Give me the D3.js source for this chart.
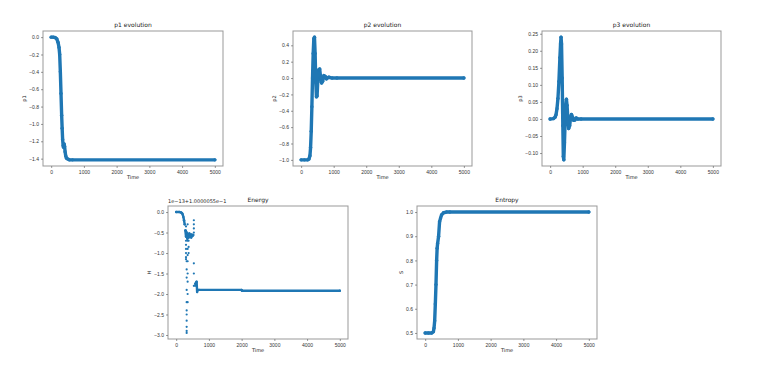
<!DOCTYPE html>
<html>
<head>
<meta charset="utf-8">
<script src="https://cdn.jsdelivr.net/npm/d3@7"></script>
<style>
  body { margin: 0; background: #fff; }
  svg { display: block; font-family: "DejaVu Sans", sans-serif; }
  .tick text { fill: #333; }
</style>
</head>
<body>
<svg id="fig" width="769" height="370"></svg>
<script>
// time axis ticks shared by all panels
const timeTicks = [0, 1000, 2000, 3000, 4000, 5000];

// p1
const p1Time = [0, 60, 120, 170, 210, 240, 260, 280, 300, 320, 335, 350, 365, 380, 395, 410, 425, 445, 470, 510, 560, 650, 5000];
const p1Vals = [0, 0, -0.005, -0.02, -0.06, -0.12, -0.2, -0.4, -0.65, -0.9, -1.05, -1.18, -1.25, -1.27, -1.23, -1.26, -1.32, -1.37, -1.395, -1.405, -1.414, -1.414, -1.414];
const p1Ticks = [0, -0.2, -0.4, -0.6, -0.8, -1.0, -1.2, -1.4];

// p2
const p2Time = [0, 100, 200, 240, 270, 290, 310, 330, 350, 370, 390, 410, 430, 450, 470, 490, 510, 540, 570, 600, 630, 660, 700, 740, 780, 850, 950, 1100, 5000];
const p2Vals = [-1, -1, -1, -0.99, -0.95, -0.85, -0.65, -0.35, 0.0, 0.3, 0.48, 0.5, 0.3, -0.05, -0.23, -0.22, -0.05, 0.1, 0.11, 0.0, -0.06, -0.04, 0.03, 0.02, -0.01, 0.01, 0.0, 0, 0];
const p2Ticks = [0.4, 0.2, 0, -0.2, -0.4, -0.6, -0.8, -1.0];

// p3
const p3Time = [0, 100, 150, 180, 210, 240, 270, 300, 320, 335, 350, 370, 390, 405, 420, 440, 460, 480, 500, 520, 545, 570, 600, 630, 655, 690, 720, 760, 800, 850, 950, 5000];
const p3Vals = [0, 0.001, 0.005, 0.012, 0.03, 0.06, 0.11, 0.18, 0.22, 0.24, 0.22, 0.12, -0.02, -0.11, -0.12, -0.07, -0.01, 0.04, 0.058, 0.04, 0.0, -0.028, -0.02, 0.005, 0.013, 0.005, -0.004, -0.003, 0.003, 0.0, 0.0, 0];
const p3Ticks = [0.25, 0.2, 0.15, 0.1, 0.05, 0, -0.05, -0.1];

// energy: dense parts (null = gap) and loose points
const energyTime = [0, 100, 150, 180, 200, 220, 240, 260, null, 280, 300, 320, 340, 360, 380, 400, 420, 440, 460, 480, 500, 520, null, 590, 610, 625, 640, 660, 700, 2000, 2010, 5000];
const energyVals = [0, 0, -0.01, -0.03, -0.06, -0.12, -0.2, -0.3, null, -0.45, -0.6, -0.5, -0.65, -0.55, -0.62, -0.52, -0.6, -0.55, -0.62, -0.55, -0.58, -0.56, null, -1.75, -1.72, -1.7, -1.95, -1.9, -1.9, -1.9, -1.92, -1.92];
const energyDotTime = [300, 300, 300, 300, 300, 300, 300, 300,
  320, 320, 320, 320, 320, 320, 320, 320, 320, 320, 320,
  350, 350, 350, 350, 350, 350, 350, 350, 350,
  380, 380, 380,
  540, 540, 540, 540, 540, 540, 540,
  580, 580];
const energyDotVals = [-0.35, -0.45, -0.7, -0.8, -0.9, -1.0, -1.1, -1.15,
  -1.2, -1.4, -1.6, -1.9, -2.2, -2.4, -2.5, -2.65, -2.8, -2.9, -2.95,
  -0.3, -0.7, -0.9, -1.05, -1.2, -1.5, -1.7, -2.0, -2.2,
  -0.7, -0.85, -1.0,
  -0.2, -0.3, -0.4, -0.5, -1.25, -1.5, -1.8,
  -1.75, -1.8];
const energyTicks = [0, -0.5, -1.0, -1.5, -2.0, -2.5, -3.0];

// entropy
const entropyTime = [0, 100, 200, 250, 270, 290, 310, 330, 350, 365, 380, 410, 440, 470, 500, 560, 650, 750, 5000];
const entropyVals = [0.5, 0.5, 0.5, 0.505, 0.52, 0.55, 0.62, 0.7, 0.8, 0.85, 0.87, 0.9, 0.96, 0.975, 0.988, 0.997, 1.0, 1.0, 1.0];
const entropyTicks = [0.5, 0.6, 0.7, 0.8, 0.9, 1.0];

const blue = "#1f77b4";
const svg = d3.select("#fig");

const panels = [
  { title: "p1 evolution", ylabel: "p1", box: [43, 31, 223, 166], t: p1Time, v: p1Vals, ticks: p1Ticks, fmt: ".1f" },
  { title: "p2 evolution", ylabel: "p2", box: [293, 31, 472, 166], t: p2Time, v: p2Vals, ticks: p2Ticks, fmt: ".1f" },
  { title: "p3 evolution", ylabel: "p3", box: [542, 31, 721, 166], t: p3Time, v: p3Vals, ticks: p3Ticks, fmt: ".2f" },
  { title: "Energy", ylabel: "H", box: [168, 206, 348, 339], t: energyTime, v: energyVals, ticks: energyTicks, fmt: ".1f",
    dotT: energyDotTime, dotV: energyDotVals, offset: "1e\u221213+1.0000055e\u22121", thin: true },
  { title: "Entropy", ylabel: "S", box: [417, 206, 597, 339], t: entropyTime, v: entropyVals, ticks: entropyTicks, fmt: ".1f" },
];

panels.forEach(p => {
  const [x0, y0, x1, y1] = p.box;
  const pts = p.t.map((t, i) => ({ t: t, v: p.v[i] }));
  const dots = p.dotT ? p.dotT.map((t, i) => ({ t: t, v: p.dotV[i] })) : [];

  // matplotlib style 5% margins
  const allV = pts.concat(dots).filter(d => d.v !== null).map(d => d.v);
  const [lo, hi] = d3.extent(allV);
  const pad = (hi - lo) * 0.05;

  const x = d3.scaleLinear().domain([-250, 5250]).range([x0, x1]);
  const y = d3.scaleLinear().domain([lo - pad, hi + pad]).range([y1, y0]);

  const g = svg.append("g");

  g.append("rect")
    .attr("x", x0).attr("y", y0)
    .attr("width", x1 - x0).attr("height", y1 - y0)
    .attr("fill", "none")
    .attr("stroke", "#999")
    .attr("stroke-width", 1);

  const xAxis = g.append("g")
    .attr("transform", `translate(0,${y1})`)
    .call(d3.axisBottom(x).tickValues(timeTicks).tickFormat(d3.format("d")).tickSize(2).tickPadding(2))
    .call(a => a.select(".domain").remove())
    .attr("font-size", 5);

  const yAxis = g.append("g")
    .attr("transform", `translate(${x0},0)`)
    .call(d3.axisLeft(y).tickValues(p.ticks).tickFormat(d3.format(p.fmt)).tickSize(2).tickPadding(2))
    .call(a => a.select(".domain").remove())
    .attr("font-size", 5);

  g.selectAll(".tick line").attr("stroke", "#555").attr("stroke-width", 0.6);

  const line = d3.line()
    .defined(d => d.v !== null)
    .x(d => x(d.t))
    .y(d => y(d.v));

  g.append("path")
    .datum(pts)
    .attr("d", line)
    .attr("fill", "none")
    .attr("stroke", blue)
    .attr("stroke-width", p.thin ? 2.4 : 3.4)
    .attr("stroke-linejoin", "round")
    .attr("stroke-linecap", "round");

  g.selectAll("circle.pt")
    .data(pts.filter(d => d.v !== null))
    .join("circle")
    .attr("class", "pt")
    .attr("cx", d => x(d.t))
    .attr("cy", d => y(d.v))
    .attr("r", p.thin ? 1.2 : 1.7)
    .attr("fill", blue);

  g.selectAll("circle.dot")
    .data(dots)
    .join("circle")
    .attr("class", "dot")
    .attr("cx", d => x(d.t))
    .attr("cy", d => y(d.v))
    .attr("r", 1.1)
    .attr("fill", blue);

  g.append("text")
    .attr("x", (x0 + x1) / 2)
    .attr("y", y0 - 4)
    .attr("text-anchor", "middle")
    .attr("font-size", 6)
    .attr("fill", "#222")
    .text(p.title);

  g.append("text")
    .attr("x", (x0 + x1) / 2)
    .attr("y", y1 + 13)
    .attr("text-anchor", "middle")
    .attr("font-size", 5)
    .attr("fill", "#222")
    .text("Time");

  const yb = yAxis.node().getBBox();
  g.append("text")
    .attr("transform", `translate(${x0 + yb.x - 3},${(y0 + y1) / 2}) rotate(-90)`)
    .attr("text-anchor", "middle")
    .attr("font-size", 5)
    .attr("fill", "#222")
    .text(p.ylabel);

  if (p.offset) {
    g.append("text")
      .attr("x", x0)
      .attr("y", y0 - 3)
      .attr("font-size", 5)
      .attr("fill", "#222")
      .text(p.offset);
  }
});
</script>
</body>
</html>
